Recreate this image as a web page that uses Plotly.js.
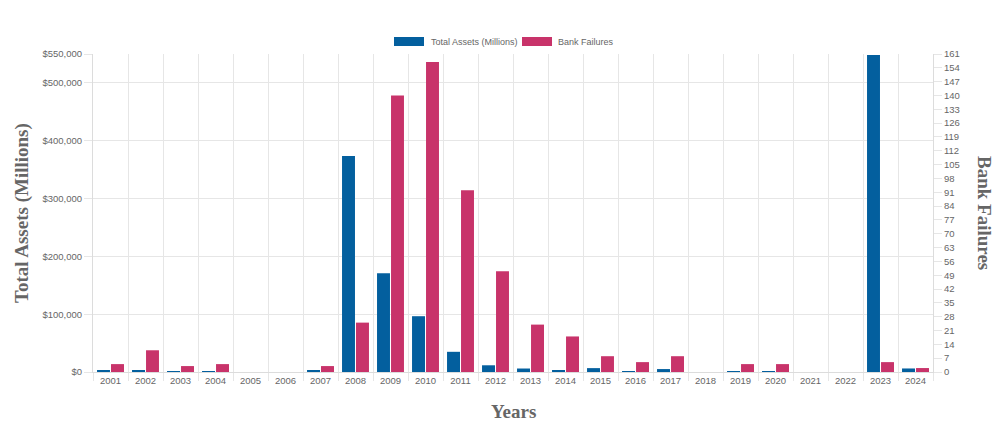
<!DOCTYPE html>
<html>
<head>
<meta charset="utf-8">
<script src="https://cdn.plot.ly/plotly-3.0.1.min.js"></script>
<style>
html,body{margin:0;padding:0;background:#fff;}
#chart{width:1000px;height:426px;}
</style>
</head>
<body>
<div id="chart"></div>
<script>
const years = ["2001","2002","2003","2004","2005","2006","2007","2008","2009","2010","2011","2012","2013","2014","2015","2016","2017","2018","2019","2020","2021","2022","2023","2024"];
const totalAssets = [2358,2872,1098,170,0,0,2615,373589,170867,96514,34923,11617,6044,2914,6706,277,5082,0,209,458,0,0,548469,6100];
const bankFailures = [4,11,3,4,0,0,3,25,140,157,92,51,24,18,8,5,8,0,4,4,0,0,5,2];
const leftTicks = [0,100000,200000,300000,400000,500000,550000];
const leftTickText = ["$0","$100,000","$200,000","$300,000","$400,000","$500,000","$550,000"];
const seriesNames = ["Total Assets (Millions)","Bank Failures"];

const BLUE = "#035f9e";
const PINK = "#c8336a";
const GRID = "#e6e6e6";
const TICKC = "#666666";
const tickFont = {family: "Liberation Sans, Arial, sans-serif", size: 9.5, color: TICKC};
const titleFont = {family: "Liberation Serif, Times New Roman, serif", size: 19, color: "#666666"};

const traces = [
  {type: "bar", x: years, y: totalAssets, name: seriesNames[0], yaxis: "y",
   marker: {color: BLUE, line: {width: 0}}, width: 0.37, offset: -0.385,
   showlegend: false, hovertemplate: "%{x}: $%{y:,}<extra></extra>"},
  {type: "bar", x: years, y: bankFailures, name: seriesNames[1], yaxis: "y2",
   marker: {color: PINK, line: {width: 0}}, width: 0.37, offset: 0.015,
   showlegend: false, hovertemplate: "%{x}: %{y}<extra></extra>"}
];

const layout = {
  width: 1000, height: 426,
  margin: {l: 93, r: 67, t: 54, b: 54},
  paper_bgcolor: "#ffffff", plot_bgcolor: "#ffffff",
  barmode: "overlay",
  showlegend: false,
  xaxis: {
    type: "category", tickson: "boundaries", showgrid: true, gridcolor: GRID, gridwidth: 1,
    ticks: "outside", ticklen: 8, tickcolor: GRID, tickfont: tickFont,
    showline: true, linecolor: "#dcdcdc", linewidth: 1, zeroline: false,
    range: [-0.5, 23.5], fixedrange: true
  },
  yaxis: {
    range: [0, 550000], tickmode: "array", tickvals: leftTicks, ticktext: leftTickText,
    showgrid: true, gridcolor: GRID, ticks: "outside", ticklen: 8, tickcolor: GRID,
    tickfont: tickFont, showline: true, linecolor: "#dcdcdc", zeroline: false, fixedrange: true
  },
  yaxis2: {
    overlaying: "y", side: "right", range: [0, 161], tick0: 0, dtick: 7,
    showgrid: false, ticks: "outside", ticklen: 8, tickcolor: GRID,
    tickfont: tickFont, showline: true, linecolor: "#dcdcdc", zeroline: false, fixedrange: true
  },
  shapes: [
    {type: "rect", xref: "paper", yref: "paper", x0: (394-93)/840, x1: (424-93)/840, y0: (426-54-46)/318, y1: (426-54-37)/318,
     fillcolor: BLUE, line: {width: 0}},
    {type: "rect", xref: "paper", yref: "paper", x0: (522-93)/840, x1: (552-93)/840, y0: (426-54-46)/318, y1: (426-54-37)/318,
     fillcolor: PINK, line: {width: 0}}
  ],
  annotations: [
    {text: seriesNames[0], xref: "paper", yref: "paper", x: (429-93)/840, y: (426-54-41.5)/318, xanchor: "left", yanchor: "middle",
     showarrow: false, font: {family: "Liberation Sans, Arial, sans-serif", size: 9, color: TICKC}},
    {text: seriesNames[1], xref: "paper", yref: "paper", x: (556-93)/840, y: (426-54-41.5)/318, xanchor: "left", yanchor: "middle",
     showarrow: false, font: {family: "Liberation Sans, Arial, sans-serif", size: 9, color: TICKC}},
    {text: "<b>Total Assets (Millions)</b>", xref: "paper", yref: "paper", x: (22-93)/840, y: 0.5, textangle: -90,
     xanchor: "center", yanchor: "middle", showarrow: false, font: titleFont},
    {text: "<b>Bank Failures</b>", xref: "paper", yref: "paper", x: (985-93)/840, y: 0.5, textangle: 90,
     xanchor: "center", yanchor: "middle", showarrow: false, font: titleFont},
    {text: "<b>Years</b>", xref: "paper", yref: "paper", x: 0.5, y: (426-54-411)/318,
     xanchor: "center", yanchor: "middle", showarrow: false, font: titleFont}
  ]
};

Plotly.newPlot("chart", traces, layout, {displayModeBar: false, responsive: false});
</script>
</body>
</html>
